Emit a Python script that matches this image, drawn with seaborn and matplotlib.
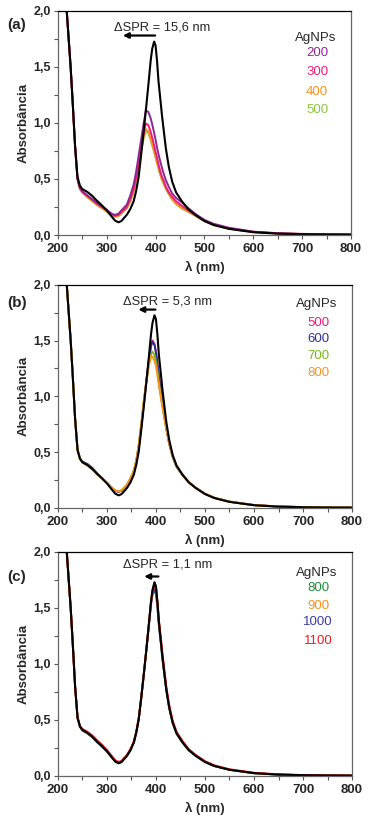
import numpy as np
import pandas as pd
import seaborn as sns
import matplotlib.pyplot as plt
from matplotlib.ticker import MultipleLocator, FuncFormatter

# comprimento de onda (nm) comum a todas as curvas
wl = [215, 218, 222, 226, 230, 235, 240, 245, 250, 260, 270, 280, 290, 300,
      310, 317, 324, 330, 341, 348, 355, 360, 365, 370, 375, 380, 385, 390,
      393, 397, 400, 403, 406, 410, 413, 417, 421, 427, 434, 442, 454, 467,
      481, 500, 519, 550, 600, 650, 700, 750, 800]

# referencia (preto)
ref = [2.6, 2.0, 1.75, 1.5, 1.2, 0.80, 0.52, 0.44, 0.41, 0.385, 0.35, 0.305,
       0.265, 0.22, 0.165, 0.128, 0.113, 0.125, 0.18, 0.23, 0.30, 0.39, 0.51,
       0.70, 0.90, 1.11, 1.33, 1.56, 1.66, 1.726, 1.69, 1.55, 1.37, 1.20, 1.07,
       0.92, 0.774, 0.61, 0.476, 0.38, 0.30, 0.23, 0.18, 0.125, 0.089, 0.055,
       0.025, 0.012, 0.007, 0.004, 0.003]

# (a)
a_200 = [2.6, 2.0, 1.75, 1.5, 1.2, 0.80, 0.50, 0.42, 0.39, 0.355, 0.32, 0.285,
         0.255, 0.225, 0.19, 0.18, 0.19, 0.22, 0.27, 0.35, 0.45, 0.56, 0.70,
         0.84, 0.98, 1.11, 1.10, 1.04, 0.99, 0.91, 0.85, 0.78, 0.72, 0.65, 0.60,
         0.54, 0.49, 0.43, 0.37, 0.33, 0.29, 0.24, 0.19, 0.135, 0.10, 0.065,
         0.030, 0.016, 0.010, 0.007, 0.005]
a_300 = [2.6, 2.0, 1.75, 1.5, 1.2, 0.80, 0.50, 0.42, 0.385, 0.35, 0.315, 0.28,
         0.25, 0.22, 0.185, 0.172, 0.18, 0.205, 0.25, 0.32, 0.41, 0.51, 0.63,
         0.775, 0.90, 0.995, 0.98, 0.92, 0.87, 0.80, 0.74, 0.69, 0.63, 0.56, 0.52,
         0.48, 0.43, 0.38, 0.34, 0.30, 0.26, 0.22, 0.18, 0.13, 0.095, 0.060,
         0.028, 0.015, 0.009, 0.006, 0.004]
a_400 = [2.6, 2.0, 1.75, 1.5, 1.2, 0.80, 0.50, 0.41, 0.38, 0.34, 0.305, 0.27,
         0.24, 0.21, 0.178, 0.165, 0.17, 0.195, 0.24, 0.30, 0.39, 0.49, 0.61,
         0.75, 0.87, 0.945, 0.925, 0.86, 0.81, 0.75, 0.70, 0.65, 0.60, 0.54, 0.50,
         0.46, 0.42, 0.37, 0.32, 0.28, 0.24, 0.21, 0.175, 0.125, 0.09, 0.058,
         0.027, 0.014, 0.008, 0.005, 0.004]
a_500 = [2.6, 2.0, 1.75, 1.5, 1.2, 0.80, 0.50, 0.41, 0.378, 0.338, 0.302, 0.268,
         0.238, 0.208, 0.176, 0.163, 0.168, 0.192, 0.236, 0.295, 0.385, 0.48, 0.60,
         0.735, 0.85, 0.93, 0.91, 0.85, 0.80, 0.74, 0.69, 0.64, 0.59, 0.53, 0.49,
         0.45, 0.41, 0.365, 0.315, 0.275, 0.235, 0.205, 0.172, 0.123, 0.089, 0.057,
         0.026, 0.014, 0.008, 0.005, 0.004]

# (b)
b_500 = [2.6, 2.0, 1.75, 1.5, 1.2, 0.80, 0.52, 0.44, 0.41, 0.385, 0.35, 0.305,
         0.265, 0.225, 0.18, 0.152, 0.145, 0.155, 0.205, 0.26, 0.33, 0.42, 0.55,
         0.73, 0.93, 1.12, 1.31, 1.46, 1.50, 1.47, 1.40, 1.30, 1.18, 1.05, 0.95,
         0.83, 0.72, 0.58, 0.46, 0.37, 0.295, 0.23, 0.18, 0.127, 0.091, 0.056,
         0.026, 0.013, 0.008, 0.005, 0.004]
b_600 = [2.6, 2.0, 1.75, 1.5, 1.2, 0.80, 0.52, 0.445, 0.415, 0.395, 0.36, 0.31,
         0.268, 0.226, 0.18, 0.153, 0.146, 0.156, 0.205, 0.26, 0.33, 0.42, 0.55,
         0.73, 0.93, 1.12, 1.30, 1.45, 1.49, 1.46, 1.39, 1.29, 1.17, 1.04, 0.94,
         0.83, 0.72, 0.58, 0.46, 0.37, 0.295, 0.23, 0.18, 0.127, 0.091, 0.056,
         0.026, 0.013, 0.008, 0.005, 0.004]
b_700 = [2.6, 2.0, 1.75, 1.5, 1.2, 0.80, 0.52, 0.44, 0.41, 0.385, 0.35, 0.305,
         0.265, 0.226, 0.182, 0.155, 0.148, 0.158, 0.208, 0.265, 0.335, 0.43, 0.57,
         0.75, 0.95, 1.12, 1.28, 1.38, 1.40, 1.37, 1.31, 1.22, 1.12, 1.00, 0.92,
         0.81, 0.71, 0.58, 0.46, 0.37, 0.295, 0.23, 0.18, 0.128, 0.092, 0.057,
         0.026, 0.013, 0.008, 0.005, 0.004]
b_800 = [2.6, 2.0, 1.75, 1.5, 1.2, 0.80, 0.52, 0.44, 0.405, 0.38, 0.345, 0.30,
         0.263, 0.226, 0.183, 0.157, 0.15, 0.16, 0.21, 0.27, 0.34, 0.43, 0.57,
         0.75, 0.95, 1.12, 1.26, 1.36, 1.355, 1.32, 1.27, 1.19, 1.10, 0.99, 0.91,
         0.81, 0.71, 0.58, 0.465, 0.375, 0.30, 0.235, 0.183, 0.13, 0.093, 0.058,
         0.027, 0.014, 0.008, 0.005, 0.004]

# (c)
c_800 = [2.6, 2.0, 1.75, 1.5, 1.2, 0.80, 0.52, 0.44, 0.41, 0.385, 0.35, 0.305,
         0.265, 0.22, 0.167, 0.13, 0.115, 0.127, 0.182, 0.232, 0.302, 0.392, 0.512,
         0.70, 0.90, 1.11, 1.33, 1.56, 1.66, 1.73, 1.69, 1.55, 1.37, 1.20, 1.07,
         0.92, 0.774, 0.61, 0.476, 0.38, 0.30, 0.23, 0.18, 0.125, 0.089, 0.055,
         0.025, 0.012, 0.007, 0.004, 0.003]
c_900 = [2.6, 2.0, 1.75, 1.5, 1.2, 0.80, 0.52, 0.44, 0.41, 0.385, 0.352, 0.308,
         0.268, 0.223, 0.17, 0.133, 0.118, 0.13, 0.185, 0.235, 0.305, 0.395, 0.515,
         0.70, 0.90, 1.11, 1.33, 1.55, 1.65, 1.72, 1.68, 1.55, 1.38, 1.21, 1.08,
         0.93, 0.78, 0.615, 0.48, 0.385, 0.303, 0.233, 0.182, 0.127, 0.09, 0.056,
         0.026, 0.013, 0.007, 0.004, 0.003]
c_1000 = [2.6, 2.0, 1.75, 1.5, 1.2, 0.80, 0.52, 0.44, 0.405, 0.38, 0.345, 0.30,
          0.262, 0.22, 0.168, 0.132, 0.118, 0.13, 0.185, 0.235, 0.305, 0.395, 0.515,
          0.70, 0.90, 1.11, 1.32, 1.53, 1.62, 1.66, 1.62, 1.50, 1.34, 1.18, 1.05,
          0.91, 0.77, 0.61, 0.476, 0.38, 0.30, 0.23, 0.18, 0.125, 0.089, 0.055,
          0.025, 0.012, 0.007, 0.004, 0.003]
c_1100 = [2.6, 2.0, 1.75, 1.5, 1.2, 0.80, 0.52, 0.445, 0.42, 0.395, 0.362, 0.318,
          0.278, 0.232, 0.178, 0.14, 0.125, 0.136, 0.19, 0.24, 0.31, 0.40, 0.52,
          0.70, 0.90, 1.11, 1.33, 1.55, 1.64, 1.70, 1.67, 1.55, 1.39, 1.23, 1.10,
          0.95, 0.80, 0.635, 0.495, 0.395, 0.313, 0.24, 0.188, 0.132, 0.095, 0.06,
          0.028, 0.014, 0.008, 0.005, 0.004]

names_a = ["200", "300", "400", "500"]
names_b = ["500", "600", "700", "800"]
names_c = ["800", "900", "1000", "1100"]
colors_a = ["#8E278F", "#EC1C7A", "#F7931E", "#8DC63F"]
colors_b = ["#EC1C7A", "#2E3192", "#7AB51D", "#F7931E"]
colors_c = ["#1E8B3A", "#F7931E", "#3C3C9E", "#ED1C24"]
shifts = ["15,6", "5,3", "1,1"]
tags = ["(a)", "(b)", "(c)"]

panels = [
    (names_a, dict(zip(names_a, [a_200, a_300, a_400, a_500])), colors_a,
     ["500", "400", "300", "200"]),
    (names_b, dict(zip(names_b, [b_500, b_600, b_700, b_800])), colors_b,
     ["500", "600", "700", "800"]),
    (names_c, dict(zip(names_c, [c_800, c_900, c_1000, c_1100])), colors_c,
     ["1000", "800", "900", "1100"]),
]

# posicoes dos textos (coordenadas dos dados)
spr_x = [414, 424, 424]
spr_y = [1.85, 1.85, 1.89]
arrow_y = [1.78, 1.777, 1.78]
arrow_x = [(399, 333), (399, 364), (405, 376)]
leg_y = [[1.76, 1.62, 1.455, 1.28, 1.115],
         [1.83, 1.66, 1.51, 1.36, 1.21],
         [1.81, 1.68, 1.52, 1.375, 1.20]]
leg_x = 731
label_y = [0.970, 0.632, 0.300]

sns.set_style("ticks")
plt.rcParams['font.family'] = ['Liberation Sans', 'DejaVu Sans']

fig = plt.figure(figsize=(3.69, 8.24), dpi=100)
rects = [[0.157, 0.7148, 0.794, 0.272],
         [0.157, 0.3835, 0.797, 0.271],
         [0.157, 0.0583, 0.797, 0.272]]

for i, (names, series, colors, order) in enumerate(panels):
    ax = fig.add_axes(rects[i])
    pal = dict(zip(names, colors))
    df = pd.concat([pd.DataFrame({"wl": wl, "A": series[n], "amostra": n}) for n in order],
                   ignore_index=True)
    sns.lineplot(data=df, x="wl", y="A", hue="amostra", hue_order=order,
                 palette=pal, linewidth=1.4, sort=False, estimator=None,
                 legend=False, ax=ax)
    sns.lineplot(x=wl, y=ref, color="black", linewidth=1.5, sort=False,
                 estimator=None, ax=ax)

    ax.set_xlim(200, 800)
    ax.set_ylim(0, 2.0)
    ax.xaxis.set_major_locator(MultipleLocator(100))
    ax.xaxis.set_minor_locator(MultipleLocator(50))
    ax.yaxis.set_major_locator(MultipleLocator(0.5))
    ax.yaxis.set_minor_locator(MultipleLocator(0.25))
    ax.yaxis.set_major_formatter(FuncFormatter(lambda v, p: f"{v:.1f}".replace(".", ",")))
    ax.tick_params(which="both", direction="out", length=3, width=0.8, color="#555555")
    ax.tick_params(axis="x", labelsize=9.5, pad=3)
    ax.tick_params(axis="y", labelsize=9, pad=2)
    for lab in ax.get_xticklabels() + ax.get_yticklabels():
        lab.set_fontweight("bold")
    for side in ["left", "bottom", "right"]:
        ax.spines[side].set_color("#666666")
        ax.spines[side].set_linewidth(0.9)
    ax.spines["top"].set_color("black")
    ax.spines["top"].set_linewidth(0.9)

    ax.set_xlabel("λ (nm)", fontsize=9.5, fontweight="bold")
    ax.set_ylabel("Absorbância", fontsize=9.5, fontweight="bold")
    ax.xaxis.set_label_coords(0.5, -0.115)
    ax.yaxis.set_label_coords(-0.095, 0.5)

    ax.text(spr_x[i], spr_y[i], f"ΔSPR = {shifts[i]} nm", fontsize=9.3,
            ha="center", va="center")
    ax.annotate("", xy=(arrow_x[i][1], arrow_y[i]), xytext=(arrow_x[i][0], arrow_y[i]),
                arrowprops=dict(arrowstyle="-|>", color="black", lw=1.6,
                                mutation_scale=8, shrinkA=0, shrinkB=0))
    ax.text(leg_x - 4, leg_y[i][0], "AgNPs", fontsize=9.5, ha="center", va="center")
    for k, name in enumerate(names):
        ax.text(leg_x, leg_y[i][k + 1], name, fontsize=9.5, ha="center",
                va="center", color=pal[name])

    fig.text(0.045, label_y[i], tags[i], fontsize=11, fontweight="bold",
             ha="center", va="center")

fig.savefig("out.png", dpi=100)
